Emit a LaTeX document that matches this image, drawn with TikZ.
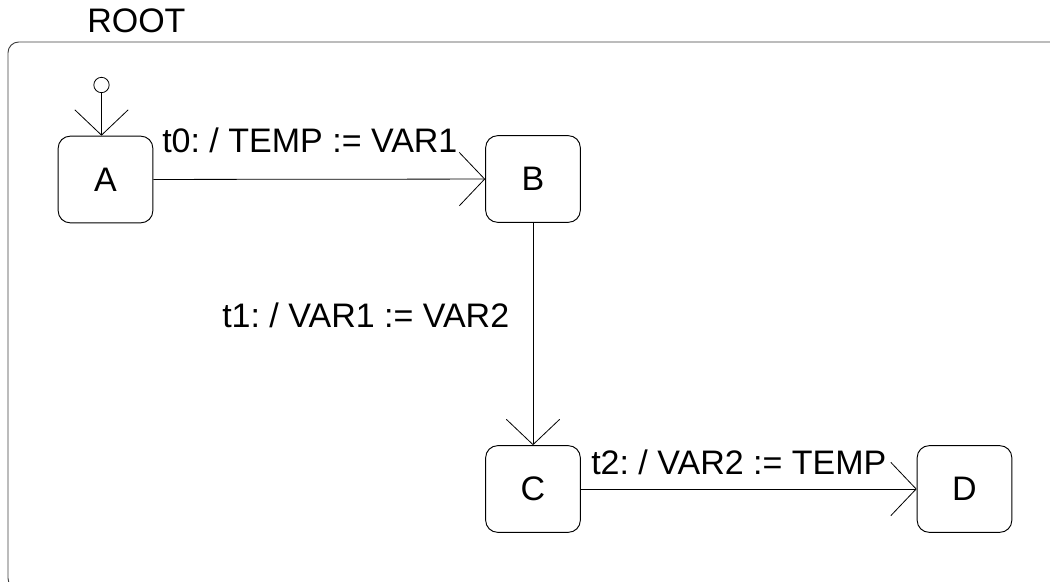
\documentclass[tikz,border=0pt]{standalone}
\usepackage{fontspec}
\setmainfont{Liberation Sans}
\usetikzlibrary{arrows.meta}
\frenchspacing
\begin{document}
\begin{tikzpicture}[x=0.75pt,y=-0.75pt,
  every node/.style={font=\fontsize{25.5}{29}\selectfont},
  state/.style={draw, rounded corners=9pt, minimum width=71pt, minimum height=65pt, inner sep=0pt, line width=0.7pt},
  trans/.style={draw, line width=0.6pt, -{Straight Barb[length=19pt,width=40pt,line width=0.6pt]}},
  lbl/.style={anchor=base west, inner sep=0pt}]
\clip (0,0) rectangle (1050,582);
\useasboundingbox (0,0) rectangle (1050,582);
% ROOT container
\draw[line width=0.7pt, black!75, rounded corners=8pt] (1070,589) -- (8,589) -- (8,42) -- (1070,42);
\node[lbl] (root) at (87,32) {ROOT};
% states
\node[state] (A) at (105.5,179.5) {A};
\node[state] (B) at (533,179) {B};
\node[state] (C) at (533,489) {C};
\node[state] (D) at (964.5,489) {D};
% initial
\node[draw, circle, minimum size=11.5pt, inner sep=0pt, line width=0.6pt] (init) at (101.5,85) {};
\draw[trans] (init) -- (init |- A.north);
% transitions
\draw[trans] (A) -- (B);
\draw[trans] (B) -- (C);
\draw[trans] (C) -- (D);
% labels
\node[lbl] (l0) at (162,152) {t0: / TEMP := VAR1};
\node[lbl] (l1) at (222,327) {t1: / VAR1 := VAR2};
\node[lbl] (l2) at (591,474) {t2: / VAR2 := TEMP};
\end{tikzpicture}
\end{document}
